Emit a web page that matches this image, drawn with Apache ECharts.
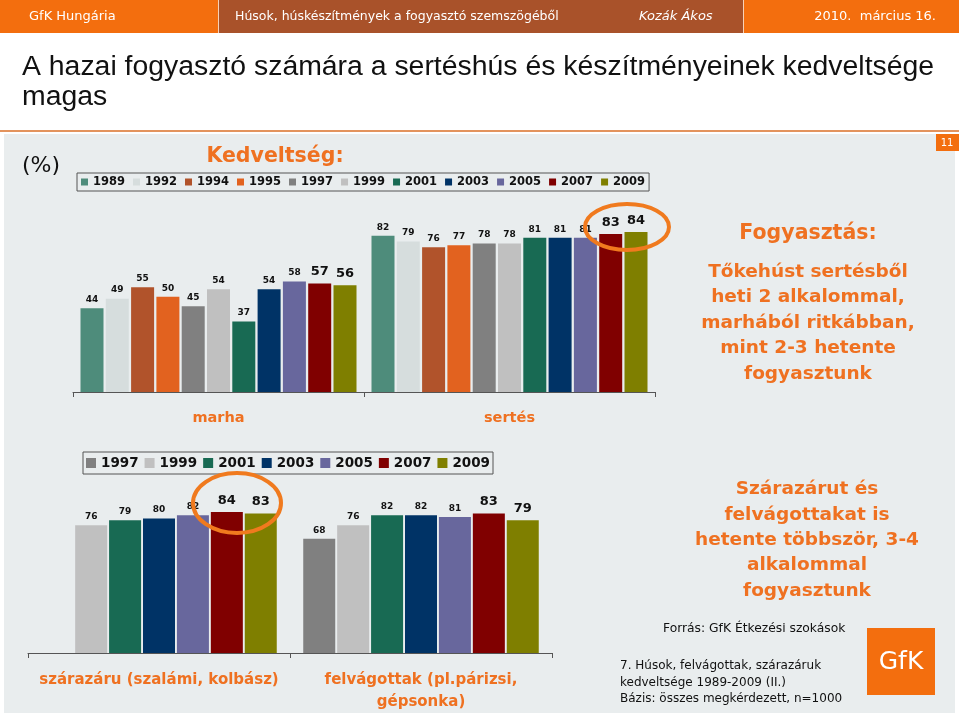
<!DOCTYPE html>
<html>
<head>
<meta charset="utf-8">
<script src="https://cdn.jsdelivr.net/npm/echarts@6/dist/echarts.min.js"></script>
<style>
  html, body { margin: 0; padding: 0; background: #fff; }
  #main { width: 959px; height: 720px; }
</style>
</head>
<body>
<div id="main"></div>
<script>
  // adatok
  var years = ['1989', '1992', '1994', '1995', '1997', '1999', '2001', '2003', '2005', '2007', '2009'];
  var topCats = ['marha', 'sertés'];
  var marha = [44, 49, 55, 50, 45, 54, 37, 54, 58, 57, 56];
  var sertes = [82, 79, 76, 77, 78, 78, 81, 81, 81, 83, 84];

  var bottomYears = ['1997', '1999', '2001', '2003', '2005', '2007', '2009'];
  var bottomCats = ['szárazáru (szalámi, kolbász)', 'felvágottak (pl.párizsi,\ngépsonka)'];
  var szarazaru = [null, 76, 79, 80, 82, 84, 83];
  var felvagottak = [68, 76, 82, 82, 81, 83, 79];

  // szinek
  var palette = {
    '1989': '#4e8c7b', '1992': '#d6dddd', '1994': '#b1532b', '1995': '#e2621f',
    '1997': '#808080', '1999': '#c0c0c0', '2001': '#186a53', '2003': '#003366',
    '2005': '#68679d', '2007': '#800000', '2009': '#7f7f00'
  };
  var orange = '#ef7121';
  var bodyFont = 'DejaVu Sans';

  function labelFor(year) {
    var big = (year === '2007' || year === '2009');
    return {
      show: true,
      position: 'top',
      distance: big ? 5 : 4,
      fontFamily: bodyFont,
      fontWeight: 'bold',
      fontSize: big ? 13 : 9,
      color: '#111'
    };
  }

  var series = [];
  years.forEach(function (y, i) {
    series.push({
      name: y, type: 'bar', xAxisIndex: 0, yAxisIndex: 0,
      barWidth: 23, barGap: '10%',
      itemStyle: { color: palette[y] },
      label: labelFor(y),
      data: [marha[i], sertes[i]]
    });
  });
  bottomYears.forEach(function (y, i) {
    series.push({
      name: y, type: 'bar', xAxisIndex: 1, yAxisIndex: 1,
      barWidth: 32, barGap: '6%',
      itemStyle: { color: palette[y] },
      label: labelFor(y),
      data: [szarazaru[i] == null ? '-' : szarazaru[i], felvagottak[i]]
    });
  });

  var myChart = echarts.init(document.getElementById('main'));
  var option = {
    backgroundColor: '#ffffff',
    animation: false,
    legend: [{
      data: years,
      left: 77, top: 173,
      orient: 'horizontal',
      icon: 'rect',
      itemWidth: 7, itemHeight: 7, itemGap: 8,
      padding: [3, 4],
      borderColor: '#555', borderWidth: 1,
      textStyle: { fontFamily: bodyFont, fontWeight: 'bold', fontSize: 11.5, color: '#111' }
    }, {
      data: bottomYears,
      left: 83, top: 452,
      orient: 'horizontal',
      icon: 'rect',
      itemWidth: 10, itemHeight: 10, itemGap: 6,
      padding: [4, 3],
      borderColor: '#555', borderWidth: 1,
      textStyle: { fontFamily: bodyFont, fontWeight: 'bold', fontSize: 13.5, color: '#111' }
    }],
    grid: [
      { left: 73, right: 304, top: 201.5, bottom: 328 },
      { left: 28, right: 407, top: 485, bottom: 67 }
    ],
    xAxis: [{
      type: 'category', gridIndex: 0, data: topCats,
      axisLine: { lineStyle: { color: '#555', width: 1 } },
      axisTick: { show: true, length: 5, lineStyle: { color: '#555' } },
      axisLabel: { interval: 0, margin: 17, fontFamily: bodyFont, fontWeight: 'bold', fontSize: 14.5, lineHeight: 18, color: orange }
    }, {
      type: 'category', gridIndex: 1, data: bottomCats,
      axisLine: { lineStyle: { color: '#555', width: 1 } },
      axisTick: { show: true, length: 5, lineStyle: { color: '#555' } },
      axisLabel: { interval: 0, hideOverlap: false, margin: 16, fontFamily: bodyFont, fontWeight: 'bold', fontSize: 15, lineHeight: 22, color: orange }
    }],
    yAxis: [
      { type: 'value', gridIndex: 0, min: 0, max: 100, show: false },
      { type: 'value', gridIndex: 1, min: 0, max: 100, show: false }
    ],
    graphic: [
      // fejlec
      { type: 'rect', z: -10, shape: { x: 0, y: 0, width: 959, height: 33 }, style: { fill: '#f36e0e' } },
      { type: 'rect', z: -9, shape: { x: 219, y: 0, width: 524, height: 33 }, style: { fill: '#a9522a' } },
      { type: 'rect', z: -9, shape: { x: 218, y: 0, width: 1, height: 33 }, style: { fill: '#f6d2b8' } },
      { type: 'rect', z: -9, shape: { x: 743, y: 0, width: 1, height: 33 }, style: { fill: '#f6d2b8' } },
      { type: 'text', z: -8, style: { x: 29, y: 17, text: 'GfK Hungária', font: '13px "DejaVu Sans"', fill: '#fff', textVerticalAlign: 'middle' } },
      { type: 'text', z: -8, style: { x: 235, y: 17, text: 'Húsok, húskészítmények a fogyasztó szemszögéből', font: '12.5px "DejaVu Sans"', fill: '#fff', textVerticalAlign: 'middle' } },
      { type: 'text', z: -8, style: { x: 639, y: 17, text: 'Kozák Ákos', font: 'italic 13px "DejaVu Sans"', fill: '#fff', textVerticalAlign: 'middle' } },
      { type: 'text', z: -8, style: { x: 936, y: 17, text: '2010.  március 16.', font: '13px "DejaVu Sans"', fill: '#fff', textAlign: 'right', textVerticalAlign: 'middle' } },
      // cim
      { type: 'text', z: -8, style: { x: 22, y: 52, text: 'A hazai fogyasztó számára a sertéshús és készítményeinek kedveltsége\nmagas', font: '28.4px "Liberation Sans"', lineHeight: 30, fill: '#111' } },
      { type: 'rect', z: -9, shape: { x: 0, y: 130, width: 959, height: 2 }, style: { fill: '#e3935d' } },
      // panel
      { type: 'rect', z: -10, shape: { x: 4, y: 134, width: 951, height: 579 }, style: { fill: '#e9edee' } },
      { type: 'rect', z: -8, shape: { x: 936, y: 134, width: 23, height: 17 }, style: { fill: '#f36e0e' } },
      { type: 'text', z: -7, style: { x: 947, y: 143, text: '11', font: '10px "DejaVu Sans"', fill: '#fff', textAlign: 'center', textVerticalAlign: 'middle' } },
      { type: 'text', z: -8, style: { x: 22, y: 166, text: '(%)', font: '22px "DejaVu Sans"', fill: '#111', textVerticalAlign: 'middle' } },
      { type: 'text', z: -8, style: { x: 275, y: 157, text: 'Kedveltség:', font: 'bold 20.5px "DejaVu Sans"', fill: orange, textAlign: 'center', textVerticalAlign: 'middle' } },
      // jobb oldali szovegek
      { type: 'text', z: -8, style: { x: 808, y: 234, text: 'Fogyasztás:', font: 'bold 20.5px "DejaVu Sans"', fill: orange, textAlign: 'center', textVerticalAlign: 'middle' } },
      { type: 'text', z: -8, style: { x: 808, y: 259, text: 'Tőkehúst sertésből\nheti 2 alkalommal,\nmarhából ritkábban,\nmint 2-3 hetente\nfogyasztunk', font: 'bold 18.5px "DejaVu Sans"', lineHeight: 25.5, fill: orange, textAlign: 'center' } },
      { type: 'text', z: -8, style: { x: 807, y: 477, text: 'Szárazárut és\nfelvágottakat is\nhetente többször, 3-4\nalkalommal\nfogyasztunk', font: 'bold 18.5px "DejaVu Sans"', lineHeight: 25.3, fill: orange, textAlign: 'center' } },
      { type: 'text', z: -8, style: { x: 663, y: 629, text: 'Forrás: GfK Étkezési szokások', font: '12.3px "DejaVu Sans"', fill: '#111', textVerticalAlign: 'middle' } },
      { type: 'text', z: -8, style: { x: 620, y: 658, text: '7. Húsok, felvágottak, szárazáruk\nkedveltsége 1989-2009 (II.)\nBázis: összes megkérdezett, n=1000', font: '12px "DejaVu Sans"', lineHeight: 16.5, fill: '#111' } },
      // logo
      { type: 'rect', z: -8, shape: { x: 867, y: 628, width: 68, height: 67 }, style: { fill: '#f36e0e' } },
      { type: 'text', z: -7, style: { x: 901, y: 662, text: 'GfK', font: '25px "DejaVu Sans"', fill: '#fff', textAlign: 'center', textVerticalAlign: 'middle' } },
      // kiemelo ellipszisek
      { type: 'ellipse', z: 100, shape: { cx: 627, cy: 227, rx: 42, ry: 23 }, style: { fill: 'none', stroke: '#f07a1e', lineWidth: 4 } },
      { type: 'ellipse', z: 100, shape: { cx: 237, cy: 503, rx: 44, ry: 30 }, style: { fill: 'none', stroke: '#f07a1e', lineWidth: 4 } }
    ],
    series: series
  };
  myChart.setOption(option);
</script>
</body>
</html>
